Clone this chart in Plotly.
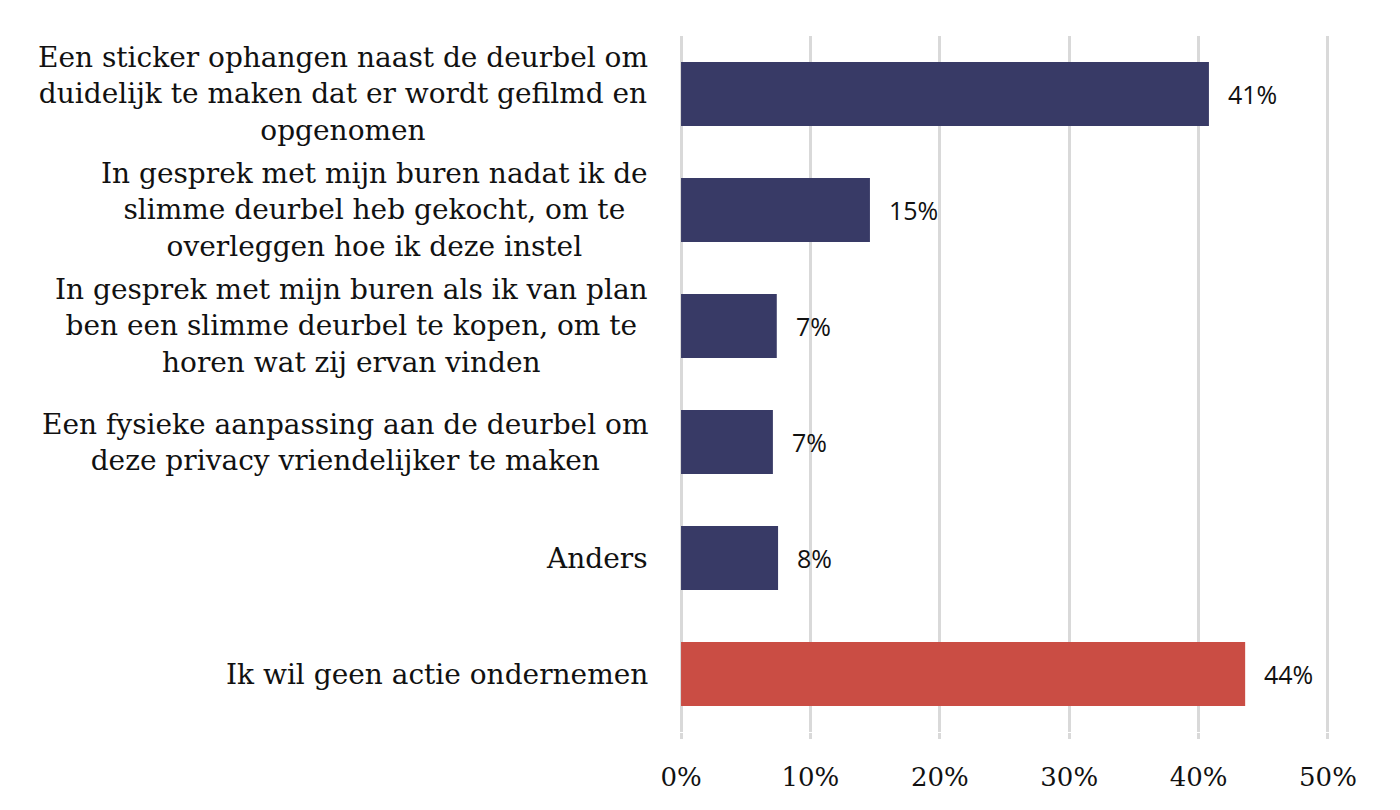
import plotly.graph_objects as go

categories = [
    "Een sticker ophangen naast de deurbel om<br>duidelijk te maken dat er wordt gefilmd en<br>opgenomen",
    "In gesprek met mijn buren nadat ik de<br>slimme deurbel heb gekocht, om te<br>overleggen hoe ik deze instel",
    "In gesprek met mijn buren als ik van plan<br>ben een slimme deurbel te kopen, om te<br>horen wat zij ervan vinden",
    "Een fysieke aanpassing aan de deurbel om<br>deze privacy vriendelijker te maken",
    "Anders",
    "Ik wil geen actie ondernemen",
]
values = [40.8, 14.6, 7.4, 7.1, 7.5, 43.6]
bar_colors = ["#383a66", "#383a66", "#383a66", "#383a66", "#383a66", "#ca4d44"]
x_tickvals = [0, 10, 20, 30, 40, 50]
x_ticktext = ["0%", "10%", "20%", "30%", "40%", "50%"]

serif = "DejaVu Serif"
sans = "Open Sans"

ids = list(range(len(categories)))

fig = go.Figure()
fig.add_trace(go.Bar(
    x=values, y=ids, orientation="h",
    marker=dict(color=bar_colors, line=dict(width=0)),
    hoverinfo="skip",
))

annotations = []
for i, (c, v) in enumerate(zip(categories, values)):
    annotations.append(dict(
        x=0, xref="paper", y=i, yref="y", text=c, showarrow=False,
        xanchor="right", yanchor="middle", align="center", xshift=-30,
        font=dict(family=serif, size=28, color="#111111"),
    ))
    annotations.append(dict(
        x=v, xref="x", y=i, yref="y", text=f"{round(v)}%", showarrow=False,
        xanchor="left", yanchor="middle", xshift=17,
        font=dict(family=sans, size=25, color="#111111"),
    ))

fig.update_layout(
    width=1392, height=802,
    margin=dict(l=672, r=71, t=28, b=78, autoexpand=False),
    paper_bgcolor="white", plot_bgcolor="white",
    bargap=0.45,
    showlegend=False,
    annotations=annotations,
    xaxis=dict(
        range=[-0.08, 50.08], tickvals=x_tickvals, ticktext=x_ticktext,
        showgrid=True, gridcolor="#d9d9d9", gridwidth=3,
        zeroline=False, showline=False,
        ticks="outside", ticklen=6, tickwidth=3, tickcolor="#d9d9d9",
        ticklabelstandoff=16,
        tickfont=dict(family=serif, size=26, color="#111111"),
    ),
    yaxis=dict(
        range=[5.5, -0.5], showticklabels=False, showgrid=False,
        zeroline=False, showline=False, ticks="",
    ),
)

fig.write_html("out.html")
